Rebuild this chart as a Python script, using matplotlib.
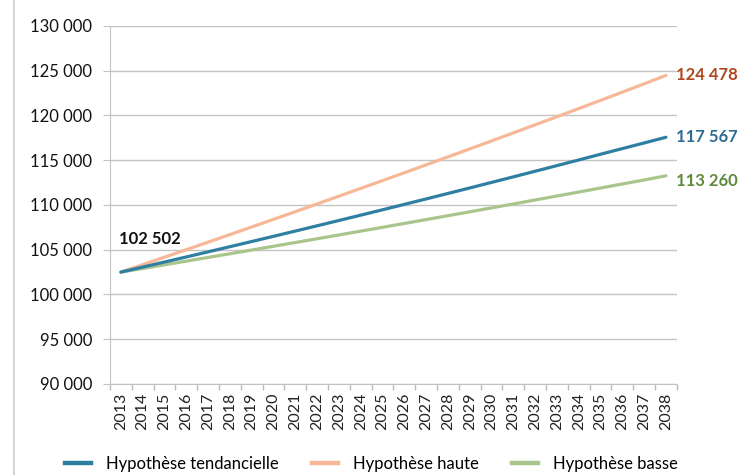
import matplotlib
matplotlib.use("Agg")
import matplotlib.pyplot as plt
from matplotlib.lines import Line2D
from matplotlib.ticker import FuncFormatter, FixedLocator

plt.rcParams['font.family'] = ['Lato', 'DejaVu Sans']

years = list(range(2013, 2039))
tendancielle = [102502, 103062, 103626, 104193, 104764, 105339, 105917, 106499,
                107085, 107674, 108267, 108864, 109464, 110068, 110676, 111287,
                111902, 112521, 113143, 113769, 114399, 115032, 115669, 116300,
                116930, 117567]
haute = [102502, 103332, 104166, 105004, 105846, 106692, 107542, 108396,
         109254, 110116, 110982, 111852, 112726, 113604, 114486, 115372,
         116262, 117156, 118054, 118956, 119862, 120772, 121686, 122610,
         123540, 124478]
basse = [102502, 102908, 103316, 103726, 104138, 104552, 104968, 105386,
         105806, 106228, 106652, 107078, 107506, 107936, 108368, 108802,
         109238, 109676, 110116, 110558, 111002, 111448, 111896, 112346,
         112798, 113260]
series_names = ["Hypothèse tendancielle", "Hypothèse haute", "Hypothèse basse"]
line_colors = ["#2f7fa3", "#f6b896", "#a9c58c"]
label_colors = ["#2e6b90", "#b0461c", "#5f8a3c"]

fig = plt.figure(figsize=(7.42, 4.75), dpi=100)
ax = fig.add_axes([0.1482, 0.1916, 0.764, 0.7537])

x = list(range(len(years)))
for vals, col in zip([haute, basse, tendancielle], [line_colors[1], line_colors[2], line_colors[0]]):
    ax.plot(x, vals, color=col, lw=2.3, solid_capstyle='round', zorder=3)

ax.set_xlim(-0.5, len(years) - 0.5)
ax.set_ylim(90000, 130000)
ax.set_yticks(range(90000, 130001, 5000))
ax.yaxis.set_major_formatter(FuncFormatter(lambda v, p: f"{int(v):,}".replace(",", " ")))
ax.grid(axis='y', color='#c4c4c4', lw=1.0)
ax.set_axisbelow(True)

ax.set_xticks(x)
ax.set_xticklabels([str(y) for y in years], rotation=90, fontsize=11.5, color='#222222')
ax.xaxis.set_minor_locator(FixedLocator([i - 0.5 for i in range(len(years) + 1)]))
ax.tick_params(axis='x', which='major', length=0, pad=6)
ax.tick_params(axis='x', which='minor', length=4, color='#bbbbbb', width=1)
ax.tick_params(axis='y', length=5, color='#c4c4c4', labelsize=12, labelcolor='#111111', pad=8)

for s in ['top', 'right']:
    ax.spines[s].set_visible(False)
ax.spines['left'].set_color('#c4c4c4')
ax.spines['bottom'].set_color('#c4c4c4')

# value labels
ax.annotate(f"{tendancielle[0]:,}".replace(",", " "), xy=(0, tendancielle[0]),
            xytext=(-2, 33), textcoords='offset pixels', fontsize=12, fontweight='bold',
            color='#111111', ha='left', va='center')
for vals, col, dy in zip([haute, tendancielle, basse], [label_colors[1], label_colors[0], label_colors[2]], [0, 0, -5]):
    ax.annotate(f"{vals[-1]:,}".replace(",", " "), xy=(x[-1], vals[-1]),
                xytext=(10, dy), textcoords='offset pixels', fontsize=12, fontweight='bold',
                color=col, ha='left', va='center', annotation_clip=False)

handles = [Line2D([], [], color=c, lw=3.2) for c in line_colors]
fig.legend(handles, series_names, loc='center', bbox_to_anchor=(0.5007, 0.024), ncol=3,
           frameon=False, fontsize=12, handlelength=1.56, columnspacing=2.0,
           handletextpad=0.9, borderaxespad=0, borderpad=0)

# left frame border
fig.add_artist(Line2D([14 / 742, 14 / 742], [0, 1], color='#cccccc', lw=1.2))

fig.savefig("out.png", dpi=100)
